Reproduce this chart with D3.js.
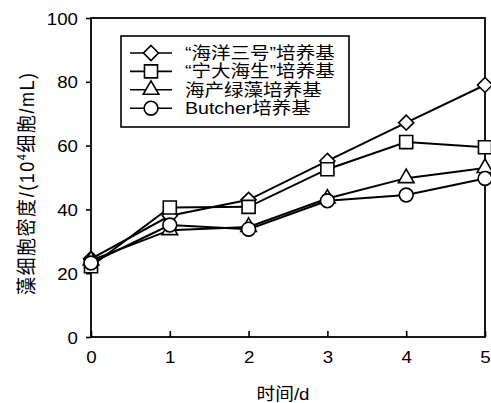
<!DOCTYPE html>
<html>
<head>
<meta charset="utf-8">
<script src="https://cdn.jsdelivr.net/npm/d3@7"></script>
<style>
  html, body { margin: 0; padding: 0; background: #fff; }
  svg { display: block; }
  text { font-family: "Liberation Sans", "Noto Sans CJK SC", sans-serif; fill: #000; }
</style>
</head>
<body>
<svg id="chart" width="491" height="403"></svg>
<script>
// Culture days and algal cell density (10^4 cells/mL) for each medium
const days = [0, 1, 2, 3, 4, 5];
const seriesNames = ["“海洋三号”培养基", "“宁大海生”培养基", "海产绿藻培养基", "Butcher培养基"];
const seriesSymbols = ["diamond", "square", "triangle", "circle"];
const haiyang3 = [24.5, 38, 43, 55.2, 67.2, 79];
const ningda = [22.2, 40.6, 40.8, 52.6, 61.1, 59.5];
const haichan = [24, 33.5, 34.5, 43.4, 49.8, 53];
const butcher = [23.2, 35.1, 33.8, 42.7, 44.5, 49.7];
const seriesValues = [haiyang3, ningda, haichan, butcher];
const yTicks = [0, 20, 40, 60, 80, 100];
const xTicks = [0, 1, 2, 3, 4, 5];
const xTitle = "时间/d";

const svg = d3.select("#chart");
const plotLeft = 91, plotRight = 485, plotTop = 18, plotBottom = 337;
const x = d3.scaleLinear().domain([0, 5]).range([plotLeft, plotRight]);
const y = d3.scaleLinear().domain([0, 100]).range([plotBottom, plotTop]);
const stretch = 1.1;

// Plot frame
svg.append("rect")
  .attr("x", plotLeft).attr("y", plotTop)
  .attr("width", plotRight - plotLeft).attr("height", plotBottom - plotTop)
  .attr("fill", "none").attr("stroke", "#000").attr("stroke-width", 1.8);

// Y axis: outward ticks
const yAxis = svg.append("g")
  .attr("transform", `translate(${plotLeft},0)`)
  .call(d3.axisLeft(y).tickValues(yTicks).tickSize(5).tickSizeOuter(0));
yAxis.select(".domain").remove();
yAxis.selectAll(".tick line").attr("stroke", "#000").attr("stroke-width", 1.6);
yAxis.selectAll(".tick text")
  .attr("x", 0).attr("dy", "0.36em")
  .attr("transform", `translate(-13,0) scale(${stretch},1)`)
  .style("font-size", "17px")
  .style("font-family", "'Liberation Sans', sans-serif");

// X axis: inward ticks
const xAxis = svg.append("g")
  .attr("transform", `translate(0,${plotBottom})`)
  .call(d3.axisBottom(x).tickValues(xTicks).tickSize(-6).tickSizeOuter(0).tickFormat(d3.format("d")));
xAxis.select(".domain").remove();
xAxis.selectAll(".tick line").attr("stroke", "#000").attr("stroke-width", 1.6);
xAxis.selectAll(".tick text")
  .attr("y", 26).attr("dy", 0)
  .attr("transform", `scale(${stretch},1)`)
  .style("font-size", "17px")
  .style("font-family", "'Liberation Sans', sans-serif");

// Axis titles
svg.append("text")
  .attr("transform", `translate(283,400) scale(${stretch},1)`)
  .attr("text-anchor", "middle")
  .style("font-size", "17px")
  .text(xTitle);

const yTitle = svg.append("text")
  .attr("transform", "translate(34,184) rotate(-90) scale(1,1.12)")
  .attr("text-anchor", "middle")
  .attr("textLength", 222)
  .attr("lengthAdjust", "spacing")
  .style("font-size", "18px");
yTitle.append("tspan").text("藻细胞密度/(10");
yTitle.append("tspan").attr("dy", -7).style("font-size", "11px").text("4");
yTitle.append("tspan").attr("dy", 7).text("细胞/mL)");

// Marker shapes
const symbolSize = { square: 170, triangle: 105, circle: 150 };
const symbolType = { square: d3.symbolSquare, triangle: d3.symbolTriangle, circle: d3.symbolCircle };
function marker(sel, kind) {
  if (kind === "diamond") {
    sel.append("path").attr("d", "M0,-7.5L7.5,0L0,7.5L-7.5,0Z");
  } else {
    sel.append("path").attr("d", d3.symbol().type(symbolType[kind]).size(symbolSize[kind])());
  }
  sel.selectAll("path").attr("fill", "#fff").attr("stroke", "#000").attr("stroke-width", 1.6);
}

// Lines first, markers on top
const line = d3.line().x((d, i) => x(days[i])).y(d => y(d));
seriesValues.forEach(vals => {
  svg.append("path").datum(vals)
    .attr("d", line)
    .attr("fill", "none").attr("stroke", "#000").attr("stroke-width", 2);
});
seriesValues.forEach((vals, si) => {
  vals.forEach((v, i) => {
    const g = svg.append("g").attr("transform", `translate(${x(days[i])},${y(v)})`);
    marker(g, seriesSymbols[si]);
  });
});

// Legend
const legend = svg.append("g");
legend.append("rect")
  .attr("x", 121).attr("y", 36).attr("width", 228).attr("height", 91)
  .attr("fill", "#fff").attr("stroke", "#000").attr("stroke-width", 1.6);
seriesNames.forEach((name, i) => {
  const ry = 53 + i * 18.4;
  legend.append("line")
    .attr("x1", 130).attr("x2", 172).attr("y1", ry).attr("y2", ry)
    .attr("stroke", "#000").attr("stroke-width", 1.6);
  const g = legend.append("g").attr("transform", `translate(151,${ry})`);
  marker(g, seriesSymbols[i]);
  legend.append("text")
    .attr("transform", `translate(185,${ry + 6}) scale(1.15,1)`)
    .style("font-size", "17px")
    .text(name);
});
</script>
</body>
</html>
